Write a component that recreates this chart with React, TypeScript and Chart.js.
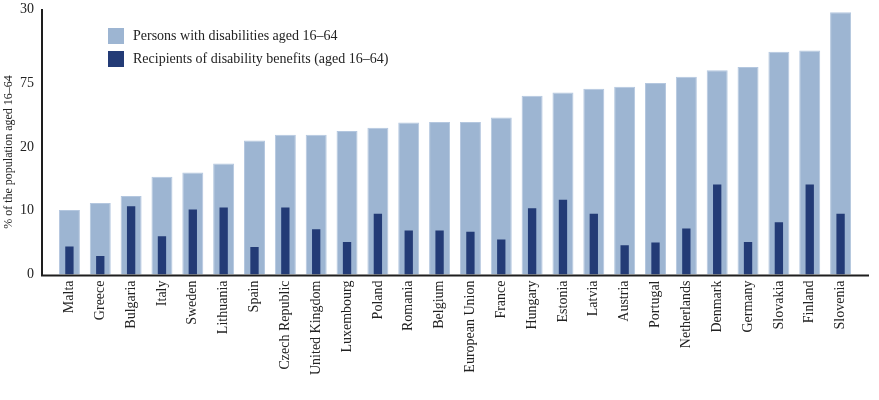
import React, { useEffect, useRef } from "react";
import { Chart, registerables } from "chart.js";

Chart.register(...registerables);

const countries = [
  "Malta", "Greece", "Bulgaria", "Italy", "Sweden", "Lithuania", "Spain",
  "Czech Republic", "United Kingdom", "Luxembourg", "Poland", "Romania",
  "Belgium", "European Union", "France", "Hungary", "Estonia", "Latvia",
  "Austria", "Portugal", "Netherlands", "Denmark", "Germany", "Slovakia",
  "Finland", "Slovenia",
];

const personsWithDisabilities = [
  10.1, 11.2, 12.3, 15.3, 16.0, 17.4, 21.0, 21.9, 21.9, 22.5, 23.0, 23.8,
  23.9, 23.9, 24.6, 28.0, 28.5, 29.1, 29.4, 30.0, 31.0, 32.0, 32.5, 34.9,
  35.1, 41.1,
];

const benefitRecipients = [
  4.4, 2.9, 10.7, 6.0, 10.2, 10.5, 4.3, 10.5, 7.1, 5.1, 9.5, 6.9, 6.9, 6.7,
  5.5, 10.4, 11.7, 9.5, 4.6, 5.0, 7.2, 14.1, 5.1, 8.2, 14.1, 9.5,
];

const yTickValues = [0, 10, 20, 30, 41.6];
const yTickLabels = ["0", "10", "20", "75", "30"];

const seriesLabels = [
  "Persons with disabilities aged 16–64",
  "Recipients of disability benefits (aged 16–64)",
];

const LIGHT = "#9db5d2";
const LIGHT_EDGE = "#b4c7df";
const DARK = "#233b76";
const FONT = "'Liberation Serif', 'Times New Roman', serif";

const decorations = {
  id: "decorations",
  afterDraw(chart: any) {
    const { ctx, chartArea } = chart;
    ctx.save();
    // axis lines
    ctx.strokeStyle = "#1e1e1e";
    ctx.lineWidth = 2;
    ctx.beginPath();
    ctx.moveTo(42, chartArea.top);
    ctx.lineTo(42, chartArea.bottom + 1);
    ctx.lineTo(869, chartArea.bottom + 1);
    ctx.stroke();

    // y-axis title
    ctx.fillStyle = "#222";
    ctx.font = `12px ${FONT}`;
    ctx.textAlign = "center";
    ctx.textBaseline = "middle";
    ctx.translate(9, 152);
    ctx.rotate(-Math.PI / 2);
    ctx.fillText("% of the population aged 16–64", 0, 0);
    ctx.restore();

    // legend
    ctx.save();
    const colors = [LIGHT, DARK];
    ctx.font = `14px ${FONT}`;
    ctx.textBaseline = "middle";
    ctx.textAlign = "left";
    seriesLabels.forEach((label, i) => {
      const y = 28 + i * 23;
      ctx.fillStyle = colors[i];
      ctx.fillRect(108, y, 16, 16);
      ctx.fillStyle = "#222";
      ctx.fillText(label, 133, y + 8);
    });
    ctx.restore();
  },
};

export default function App() {
  const canvasRef = useRef<HTMLCanvasElement | null>(null);

  useEffect(() => {
    document.body.style.margin = "0";
    const canvas = canvasRef.current;
    if (!canvas) return;
    const chart = new Chart(canvas, {
      type: "bar",
      data: {
        labels: countries,
        datasets: [
          {
            label: seriesLabels[0],
            data: personsWithDisabilities,
            backgroundColor: LIGHT,
            borderColor: LIGHT_EDGE,
            borderWidth: { top: 1, left: 1, right: 1, bottom: 0 },
            barPercentage: 0.68,
            categoryPercentage: 1,
            grouped: false,
            order: 2,
          },
          {
            label: seriesLabels[1],
            data: benefitRecipients,
            backgroundColor: DARK,
            barPercentage: 0.27,
            categoryPercentage: 1,
            grouped: false,
            order: 1,
          },
        ],
      },
      options: {
        animation: false,
        responsive: false,
        maintainAspectRatio: false,
        layout: { padding: { top: 9, right: 23, bottom: 0, left: 0 } },
        plugins: {
          legend: { display: false },
          tooltip: { enabled: false },
        },
        scales: {
          x: {
            grid: { display: false, drawTicks: false },
            border: { display: false },
            ticks: {
              color: "#222",
              font: { family: FONT, size: 14 },
              minRotation: 90,
              maxRotation: 90,
              autoSkip: false,
              padding: 6,
            },
            afterFit(scale: any) {
              scale.height = 125.5;
              scale.paddingLeft = 0;
              scale.paddingRight = 0;
              scale.paddingTop = 0;
              scale.paddingBottom = 0;
            },
          },
          y: {
            min: 0,
            max: 41.6,
            grid: { display: false, drawTicks: false },
            border: { display: false },
            afterBuildTicks(scale: any) {
              scale.ticks = yTickValues.map((v) => ({ value: v }));
            },
            ticks: {
              color: "#222",
              font: { family: FONT, size: 14 },
              padding: 20,
              callback: (_v: any, i: number) => yTickLabels[i],
            },
            afterFit(scale: any) {
              scale.width = 54;
              scale.paddingTop = 0;
              scale.paddingBottom = 0;
            },
          },
        },
      },
      plugins: [decorations],
    });
    return () => chart.destroy();
  }, []);

  return (
    <div style={{ width: 879, height: 400 }}>
      <canvas ref={canvasRef} width={879} height={400} />
    </div>
  );
}
